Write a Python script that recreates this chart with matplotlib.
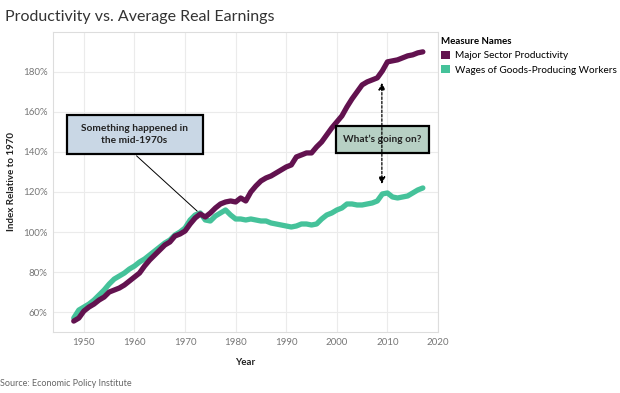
import numpy as np
import matplotlib
matplotlib.use('Agg')
import matplotlib.pyplot as plt
from matplotlib.patches import Patch, Rectangle

plt.rcParams['font.family'] = ['Lato', 'DejaVu Sans']

# ── Datos (índice, 1970 = 100%) ──────────────────────────────────────────────
years = list(range(1948, 2018))
productivity = [55.5, 57, 60.5, 62.5, 64, 66, 67.5, 70, 71, 72,
                73.5, 75.5, 77.5, 79.5, 83, 86, 88.5, 91, 93.5, 95,
                98, 99, 100.5, 104, 107, 109, 107.5, 109.5, 112, 114,
                115, 115.5, 115, 117, 115.5, 120, 123, 125.5, 127, 128,
                129.5, 131, 132.5, 133.5, 137.5, 138.5, 139.5, 139.5, 142.5, 145,
                148.5, 152, 155, 158, 162.5, 166.5, 170, 173.5, 175, 176,
                177, 180.5, 185, 185.5, 186, 187, 188, 188.5, 189.5, 190]
wages = [57, 61, 62.5, 64, 66, 68.5, 71, 74, 76.5, 78,
         79.5, 81.5, 83, 85, 86.5, 88.5, 90.5, 92.5, 94.5, 96,
         98.5, 100, 102, 106, 108.5, 109.5, 106, 105.5, 108, 109.5,
         111, 108.5, 106.5, 106.5, 106, 106.5, 106, 105.5, 105.5, 104.5,
         104, 103.5, 103, 102.5, 103, 104, 104, 103.5, 104, 106.5,
         108.5, 109.5, 111, 112, 114, 114, 113.5, 113.5, 114, 114.5,
         115.5, 119, 119.5, 117.5, 117, 117.5, 118, 119.5, 121, 122]

x_ticks = [1950, 1960, 1970, 1980, 1990, 2000, 2010, 2020]
y_ticks = [60, 80, 100, 120, 140, 160, 180]

purple = '#62124f'
green = '#45c29a'

# ── Figura ───────────────────────────────────────────────────────────────────
fig = plt.figure(figsize=(6.2, 3.93), dpi=100)
ax = fig.add_axes([0.0855, 0.155, 0.621, 0.764])

ax.plot(years, wages, color=green, linewidth=3.8, solid_capstyle='round', zorder=3)
ax.plot(years, productivity, color=purple, linewidth=3.8, solid_capstyle='round', zorder=4)

ax.set_xlim(1943.9, 2020)
ax.set_ylim(50, 200)
ax.set_xticks(x_ticks)
ax.set_yticks(y_ticks)
ax.set_yticklabels([f'{v}%' for v in y_ticks])
ax.tick_params(length=0, labelsize=7, colors='#777777', pad=4)
ax.grid(True, color='#ebebeb', linewidth=0.8)
ax.set_axisbelow(True)
for spine in ax.spines.values():
    spine.set_edgecolor('#dddddd')
    spine.set_linewidth(0.8)

ax.set_xlabel('Year', fontsize=7, fontweight='bold', color='#222222', labelpad=8)
ax.set_ylabel('Index Relative to 1970', fontsize=7, fontweight='bold', color='#222222', labelpad=5)

# ── Anotaciones ──────────────────────────────────────────────────────────────
ax.annotate('', xy=(1972.8, 109.5), xytext=(1960, 139),
            arrowprops=dict(arrowstyle='-', color='black', lw=0.7), zorder=5)
ax.add_patch(Rectangle((1946.6, 139), 26.9, 19.5, facecolor='#c9d7e5',
                       edgecolor='black', linewidth=1.6, zorder=6, clip_on=False))
ax.text(1960, 148.8, 'Something happened in\nthe mid-1970s', ha='center', va='center',
        fontsize=7.3, fontweight='bold', color='#222222', linespacing=1.4, zorder=7)

ax.add_patch(Rectangle((1999.9, 139.5), 18.3, 13.5, facecolor='#b7d0c4',
                       edgecolor='black', linewidth=1.6, zorder=6, clip_on=False))
ax.text(2009.0, 146.3, 'What\u2019s going on?', ha='center', va='center',
        fontsize=7.3, fontweight='bold', color='#222222', zorder=7)
ax.annotate('', xy=(2008.9, 174.5), xytext=(2008.9, 124),
            arrowprops=dict(arrowstyle='<|-|>', color='black', lw=0.9, linestyle=(0, (2, 1.5)),
                            mutation_scale=10, shrinkA=0, shrinkB=0), zorder=8)

# ── Títulos y leyenda ────────────────────────────────────────────────────────
fig.text(0.008, 0.957, 'Productivity vs. Average Real Earnings', fontsize=11.5,
         color='#333333', va='center')
fig.text(0.0, 0.025, 'Source: Economic Policy Institute', fontsize=6.5,
         color='#666666', va='center')

handles = [Patch(facecolor=purple, label='Major Sector Productivity'),
           Patch(facecolor=green, label='Wages of Goods-Producing Workers')]
leg = fig.legend(handles=handles, loc='upper left', bbox_to_anchor=(0.712, 0.905),
                 frameon=False, fontsize=7.2, title='Measure Names',
                 handlelength=0.9, handleheight=0.9, handletextpad=0.5,
                 labelspacing=0.45, borderaxespad=0, borderpad=0)
leg.get_title().set_fontweight('bold')
leg.get_title().set_fontsize(7)
leg._legend_box.align = 'left'

plt.savefig('out.png', dpi=100, facecolor='white')
